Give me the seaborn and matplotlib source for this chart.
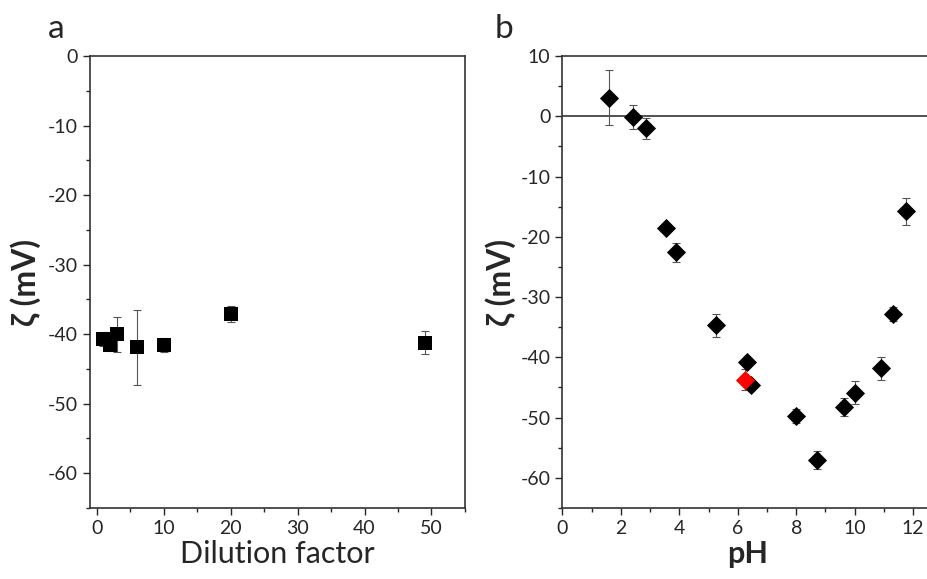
import numpy as np
import pandas as pd
import seaborn as sns
import matplotlib.pyplot as plt
from matplotlib.ticker import MultipleLocator

# Panel a: zeta potential vs dilution factor
dilution = [1, 2, 3, 6, 10, 20, 49]
zeta_a = [-40.7, -41.6, -40.0, -41.9, -41.5, -37.1, -41.2]
err_a = [1.0, 0.8, 2.5, 5.4, 1.0, 1.1, 1.7]

# Panel b: zeta potential vs pH
ph = [1.6, 2.4, 2.85, 3.55, 3.9, 5.25, 6.3, 6.45, 8.0, 8.7, 9.65, 10.0, 10.9, 11.3, 11.75]
zeta_b = [3.1, -0.1, -2.0, -18.5, -22.6, -34.7, -40.7, -44.6, -49.7, -57.1, -48.2, -45.9, -41.8, -32.8, -15.8]
err_b = [4.5, 2.0, 1.7, 0.5, 1.5, 1.9, 0.8, 0.8, 1.2, 1.5, 1.5, 1.9, 1.9, 1.2, 2.2]
# the red point (as prepared)
ph_red = [6.25]
zeta_red = [-43.7]
err_red = [1.8]

sns.set_style('ticks')
plt.rcParams['font.family'] = ['Lato', 'DejaVu Sans']
plt.rcParams['axes.unicode_minus'] = False

df_a = pd.DataFrame({'x': dilution, 'y': zeta_a})
df_b = pd.DataFrame({'x': ph, 'y': zeta_b})
df_r = pd.DataFrame({'x': ph_red, 'y': zeta_red})

fig = plt.figure(figsize=(9.28, 5.79), dpi=100)
ax1 = fig.add_axes([0.097, 0.1226, 0.404, 0.7807])
ax2 = fig.add_axes([0.606, 0.1226, 0.40, 0.7807])

ebkw = dict(fmt='none', ecolor='#555555', elinewidth=0.8, capsize=3, capthick=0.8, zorder=2)

# panel a
ax1.errorbar(dilution, zeta_a, yerr=err_a, **ebkw)
sns.scatterplot(data=df_a, x='x', y='y', ax=ax1, marker='s', s=110, color='black',
                edgecolor='black', linewidth=0, zorder=3)
ax1.set_xlim(-1, 55)
ax1.set_ylim(-65, 0)
ax1.xaxis.set_major_locator(MultipleLocator(10))
ax1.xaxis.set_minor_locator(MultipleLocator(5))
ax1.set_xlabel('Dilution factor', fontsize=22, labelpad=2)

# panel b
ax2.axhline(0, color='#333333', lw=1.2, zorder=1)
ax2.errorbar(ph, zeta_b, yerr=err_b, **ebkw)
ax2.errorbar(ph_red, zeta_red, yerr=err_red, **ebkw)
sns.scatterplot(data=df_b, x='x', y='y', ax=ax2, marker='D', s=95, color='black',
                edgecolor='black', linewidth=0, zorder=3)
sns.scatterplot(data=df_r, x='x', y='y', ax=ax2, marker='D', s=95, color='red',
                edgecolor='red', linewidth=0, zorder=3)
ax2.set_xlim(0, 12.7)
ax2.set_ylim(-65, 10)
ax2.xaxis.set_major_locator(MultipleLocator(2))
ax2.xaxis.set_minor_locator(MultipleLocator(1))
ax2.set_xlabel('pH', fontsize=22, fontweight='bold', labelpad=2)
ax2.spines['right'].set_visible(False)

for ax in (ax1, ax2):
    ax.yaxis.set_major_locator(MultipleLocator(10))
    ax.yaxis.set_minor_locator(MultipleLocator(5))
    ax.set_ylabel('ζ (mV)', fontsize=23, fontweight='bold')
    ax.tick_params(which='major', direction='out', length=5, width=1, labelsize=14)
    ax.tick_params(which='minor', direction='out', length=3, width=1)
    for s in ax.spines.values():
        s.set_color('#333333')
        s.set_linewidth(1.2)

ax1.yaxis.set_label_coords(-0.13, 0.5)
ax2.yaxis.set_label_coords(-0.125, 0.5)

fig.text(0.052, 0.935, 'a', fontsize=24)
fig.text(0.533, 0.935, 'b', fontsize=24)

fig.savefig('out.png', dpi=100)
